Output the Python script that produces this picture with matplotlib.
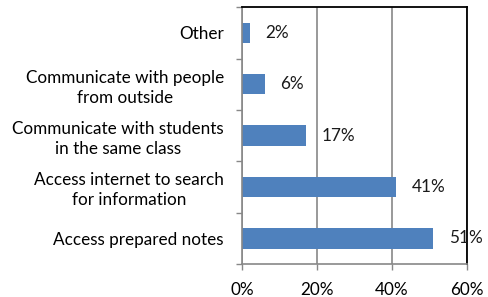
import matplotlib
matplotlib.use("Agg")
import matplotlib.pyplot as plt
from matplotlib.ticker import FixedLocator

categories = ["Access prepared notes",
              "Access internet to search\nfor information",
              "Communicate with students\nin the same class",
              "Communicate with people\nfrom outside",
              "Other"]
values = [51, 41, 17, 6, 2]
xticks = [0, 20, 40, 60]

plt.rcParams["font.family"] = ["Lato", "DejaVu Sans"]
plt.rcParams["font.size"] = 12.3

fig = plt.figure(figsize=(4.89, 2.97), dpi=100)
ax = fig.add_axes([0.495, 0.111, 0.46, 0.865])

ypos = list(range(len(categories)))
ax.barh(ypos, values, height=0.4, color="#4F81BD")
for y, v in zip(ypos, values):
    ax.annotate(f"{v}%", (v, y), xytext=(11.5, 0), textcoords="offset points",
                ha="left", va="center", color="#1a1a1a")

ax.set_xlim(0, 60)
ax.set_ylim(-0.5, len(categories) - 0.5)
ax.set_xticks(xticks)
ax.set_xticklabels([f"{t}%" for t in xticks])
ax.set_yticks(ypos)
ax.set_yticklabels(categories, multialignment="center", linespacing=1.3)
ax.yaxis.set_minor_locator(FixedLocator([i - 0.5 for i in range(len(categories) + 1)]))
ax.tick_params(axis="y", which="major", length=0, pad=13)
ax.tick_params(axis="y", which="minor", length=4, width=1, color="#888888")
ax.tick_params(axis="x", length=4, width=1, color="#888888", pad=9)

ax.grid(axis="x", color="#888888", linewidth=1.2)
ax.set_axisbelow(True)
for s in ["left", "bottom"]:
    ax.spines[s].set_color("#888888")
    ax.spines[s].set_linewidth(1.2)
for s in ["top", "right"]:
    ax.spines[s].set_color("black")
    ax.spines[s].set_linewidth(1.3)

fig.savefig("out.png", dpi=100)
